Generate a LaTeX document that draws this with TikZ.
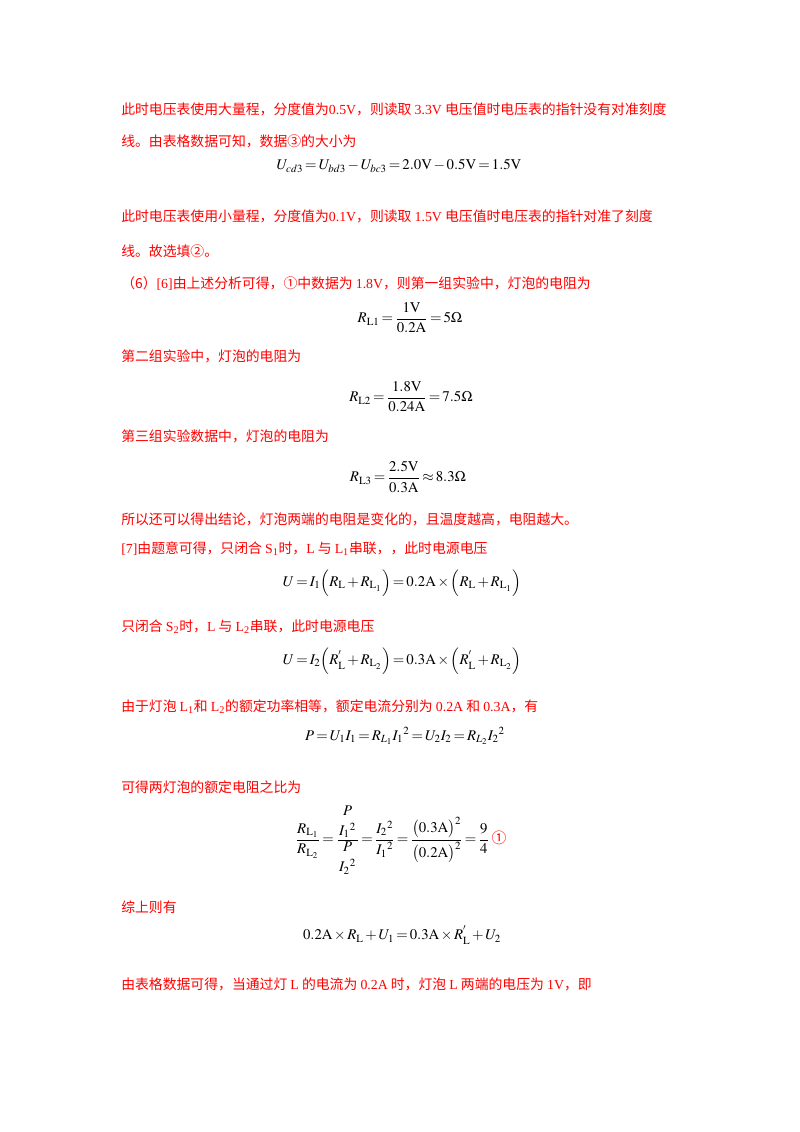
\documentclass[tikz,border=0pt]{standalone}
\usepackage{mathptmx}
\usepackage{amsmath}
\usepackage{fontspec}
\setmainfont{Liberation Serif}
\newfontfamily\cjk{Noto Sans CJK SC}
\newcommand{\en}[1]{{\rmfamily #1}}
\thickmuskip=2.5mu plus 1mu
\medmuskip=2mu plus 1mu

\begin{document}
\begin{tikzpicture}[x=0.7441pt, y=-0.7441pt,
    txt/.style={anchor=base west, inner sep=0pt, text=red, font=\cjk\fontsize{10.3}{12}\selectfont},
    eqn/.style={inner sep=0pt, font=\fontsize{11}{13}\selectfont}]
      \useasboundingbox (0,0) rectangle (800,1132);

      \node[txt] (l1) at (121,114) {此时电压表使用大量程，分度值为\en{0.5V}，则读取 \en{3.3V} 电压值时电压表的指针没有对准刻度};
      \node[txt] (l2) at (121,146) {线。由表格数据可知，数据③的大小为};
      \node[eqn] (e1) at (399,166) {$U_{cd3}=U_{bd3}-U_{bc3}=2.0\mathrm{V}-0.5\mathrm{V}=1.5\mathrm{V}$};

      \node[txt] (l3) at (121,221) {此时电压表使用小量程，分度值为\en{0.1V}，则读取 \en{1.5V} 电压值时电压表的指针对准了刻度};
      \node[txt] (l4) at (121,256) {线。故选填②。};
      \node[txt] (l5) at (121,288) {（6）\en{[6]}由上述分析可得，①中数据为 \en{1.8V}，则第一组实验中，灯泡的电阻为};
      \node[eqn] (e2) at (410,318) {$R_{\mathrm{L1}}=\dfrac{1\mathrm{V}}{0.2\mathrm{A}}=5\Omega$};

      \node[txt] (l6) at (121,361) {第二组实验中，灯泡的电阻为};
      \node[eqn] (e3) at (411,397) {$R_{\mathrm{L2}}=\dfrac{1.8\mathrm{V}}{0.24\mathrm{A}}=7.5\Omega$};

      \node[txt] (l7) at (121,441) {第三组实验数据中，灯泡的电阻为};
      \node[eqn] (e4) at (408,477) {$R_{\mathrm{L3}}=\dfrac{2.5\mathrm{V}}{0.3\mathrm{A}}\approx 8.3\Omega$};

      \node[txt] (l8) at (121,524) {所以还可以得出结论，灯泡两端的电阻是变化的，且温度越高，电阻越大。};
      \node[txt] (l9) at (121,553) {\en{[7]}由题意可得，只闭合 \en{S\textsubscript{1}}时，\en{L} 与 \en{L\textsubscript{1}}串联，，此时电源电压};
      \node[eqn] (e5) at (402,583) {$U=I_1\Big(R_{\mathrm{L}}+R_{\mathrm{L}_1}\Big)=0.2\mathrm{A}\times\Big(R_{\mathrm{L}}+R_{\mathrm{L}_1}\Big)$};

      \node[txt] (l10) at (121,631) {只闭合 \en{S\textsubscript{2}}时，\en{L} 与 \en{L\textsubscript{2}}串联，此时电源电压};
      \node[eqn] (e6) at (402,661) {$U=I_2\Big(R_{\mathrm{L}}^{'}+R_{\mathrm{L}_2}\Big)=0.3\mathrm{A}\times\Big(R_{\mathrm{L}}^{'}+R_{\mathrm{L}_2}\Big)$};

      \node[txt] (l11) at (121,711) {由于灯泡 \en{L\textsubscript{1}}和 \en{L\textsubscript{2}}的额定功率相等，额定电流分别为 \en{0.2A} 和 \en{0.3A}，有};
      \node[eqn] (e7) at (405,736) {$P=U_1I_1=R_{L_1}{I_1}^{2}=U_2I_2=R_{L_2}{I_2}^{2}$};

      \node[txt] (l12) at (121,792) {可得两灯泡的额定电阻之比为};
      \node[eqn] (e8) at (401,840) {$\dfrac{R_{\mathrm{L}_1}}{R_{\mathrm{L}_2}}=\dfrac{\genfrac{}{}{0pt}{0}{P}{{I_1}^{2}}}{\genfrac{}{}{0pt}{0}{P}{{I_2}^{2}}}=\dfrac{{I_2}^{2}}{{I_1}^{2}}=\dfrac{\big(0.3\mathrm{A}\big)^2}{\big(0.2\mathrm{A}\big)^2}=\dfrac{9}{4}$\,{\cjk\color{red}①}};

      \node[txt] (l13) at (121,912) {综上则有};
      \node[eqn] (e9) at (402,935) {$0.2\mathrm{A}\times R_{\mathrm{L}}+U_1=0.3\mathrm{A}\times R_{\mathrm{L}}^{'}+U_2$};

      \node[txt] (l14) at (121,989) {由表格数据可得，当通过灯 \en{L} 的电流为 \en{0.2A} 时，灯泡 \en{L} 两端的电压为 \en{1V}，即};
\end{tikzpicture}
\end{document}
